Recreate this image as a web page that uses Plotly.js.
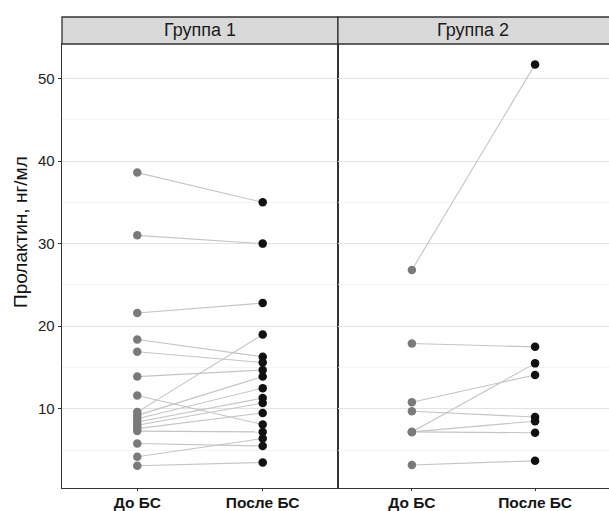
<!DOCTYPE html>
<html>
<head>
<meta charset="utf-8">
<script src="https://cdn.plot.ly/plotly-3.0.1.min.js"></script>
<style>html,body{margin:0;padding:0;background:#fff}#chart{width:609px;height:511px}</style>
</head>
<body>
<div id="chart"></div>
<script>
const categories = ["До БС", "После БС"];
const panels = ["Группа 1", "Группа 2"];
const yTitle = "Пролактин, нг/мл";
const yTicks = [10, 20, 30, 40, 50];

const g1Before = [38.6, 31.0, 21.6, 18.4, 16.9, 13.9, 11.6, 9.6, 9.2, 8.8, 8.4, 8.0, 7.6, 7.3, 5.8, 4.2, 3.1];
const g1After  = [35.0, 30.0, 22.8, 16.3, 15.6, 14.7, 8.1, 19.0, 13.9, 12.5, 11.3, 10.7, 9.5, 7.2, 5.5, 6.4, 3.5];

const g2Before = [26.8, 17.9, 10.8, 9.7, 7.2, 7.2, 7.2, 3.2];
const g2After  = [51.7, 17.5, 14.1, 9.0, 15.5, 8.5, 7.1, 3.7];

function lineTrace(before, after, xa, ya) {
  const x = [], y = [];
  for (let i = 0; i < before.length; i++) {
    x.push(categories[0], categories[1], null);
    y.push(before[i], after[i], null);
  }
  return {x, y, xaxis: xa, yaxis: ya, mode: 'lines', type: 'scatter',
          line: {color: '#c4c4c4', width: 1.1}, hoverinfo: 'skip', showlegend: false, connectgaps: false};
}
function pointTrace(vals, cat, color, xa, ya) {
  return {x: vals.map(() => cat), y: vals, xaxis: xa, yaxis: ya, mode: 'markers', type: 'scatter',
          marker: {color: color, size: 8.5}, showlegend: false};
}

const data = [
  lineTrace(g1Before, g1After, 'x', 'y'),
  lineTrace(g2Before, g2After, 'x2', 'y2'),
  pointTrace(g1Before, categories[0], '#7a7a7a', 'x', 'y'),
  pointTrace(g1After, categories[1], '#111111', 'x', 'y'),
  pointTrace(g2Before, categories[0], '#7a7a7a', 'x2', 'y2'),
  pointTrace(g2After, categories[1], '#111111', 'x2', 'y2')
];

const FONT = 'Liberation Sans, Arial, sans-serif';
const yRange = [0.41, 54.17];
const border = '#333333';

const xBase = {
  type: 'category', categoryorder: 'array', categoryarray: categories,
  range: [-0.6, 1.6], showgrid: false, zeroline: false,
  showline: true, linecolor: border, linewidth: 1.3, mirror: true,
  ticks: 'outside', ticklen: 2, tickcolor: border, ticklabelstandoff: -2,
  tickfont: {family: FONT, size: 15.5, color: '#151515', weight: 'bold'}, fixedrange: true
};
const yBase = {
  range: yRange, tickvals: yTicks, ticktext: yTicks.map(String),
  showgrid: true, gridcolor: '#e3e3e3', gridwidth: 1, zeroline: false,
  minor: {tickvals: [5, 15, 25, 35, 45], showgrid: true, gridcolor: '#eeeeee', gridwidth: 0.7},
  showline: true, linecolor: border, linewidth: 1.3, mirror: true,
  tickfont: {family: FONT, size: 15, color: '#222'}, fixedrange: true
};

const split = 0.5045;
const stripH = 27 / 444;

const layout = {
  width: 609, height: 511,
  margin: {l: 62, r: 0, t: 44, b: 23, pad: 0},
  paper_bgcolor: '#fff', plot_bgcolor: '#fff',
  showlegend: false,
  xaxis: Object.assign({}, xBase, {domain: [0, split], anchor: 'y'}),
  xaxis2: Object.assign({}, xBase, {domain: [split, 1], anchor: 'y2'}),
  yaxis: Object.assign({}, yBase, {anchor: 'x', ticks: 'outside', ticklen: 3, tickcolor: border}),
  yaxis2: Object.assign({}, yBase, {anchor: 'x2', showticklabels: false, ticks: ''}),
  shapes: [
    {type: 'rect', xref: 'paper', yref: 'paper', x0: 0, x1: split, y0: 1, y1: 1 + stripH,
     fillcolor: '#d9d9d9', line: {color: border, width: 1.3}},
    {type: 'rect', xref: 'paper', yref: 'paper', x0: split, x1: 1.01, y0: 1, y1: 1 + stripH,
     fillcolor: '#d9d9d9', line: {color: border, width: 1.3}}
  ],
  annotations: [
    {text: panels[0], xref: 'paper', yref: 'paper', x: split / 2, y: 1 + stripH / 2, showarrow: false,
     xanchor: 'center', yanchor: 'middle', font: {family: FONT, size: 18, color: '#1a1a1a'}},
    {text: panels[1], xref: 'paper', yref: 'paper', x: (split + 1.0) / 2, y: 1 + stripH / 2, showarrow: false,
     xanchor: 'center', yanchor: 'middle', font: {family: FONT, size: 18, color: '#1a1a1a'}},
    {text: yTitle, xref: 'paper', yref: 'paper', x: (20 - 62) / 547, y: (488 - 232) / 444, textangle: -90,
     showarrow: false, xanchor: 'center', yanchor: 'middle', font: {family: FONT, size: 19, color: '#111'}}
  ]
};

Plotly.newPlot('chart', data, layout, {displayModeBar: false, staticPlot: true});
</script>
</body>
</html>
